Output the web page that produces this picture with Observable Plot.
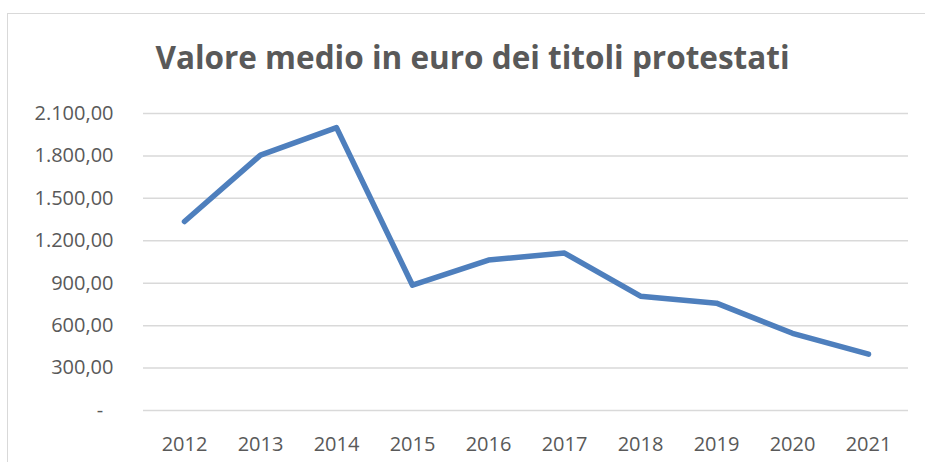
<!DOCTYPE html>
<html>
<head>
<meta charset="utf-8">
<script src="https://cdn.jsdelivr.net/npm/d3@7"></script>
<script src="https://cdn.jsdelivr.net/npm/@observablehq/plot@0.6"></script>
<style>
  html, body { margin: 0; padding: 0; background: #fff; }
  #wrap { position: relative; width: 925px; height: 462px; overflow: hidden; font-family: "Open Sans", sans-serif; }
  #frame { position: absolute; left: 7px; top: 13px; width: 1000px; height: 600px; border-top: 1.5px solid #d9d9d9; border-left: 1.5px solid #d9d9d9; box-sizing: border-box; }
  #title { position: absolute; left: 10px; width: 925px; top: 35px; text-align: center; font-size: 31.5px; font-weight: 700; color: #595959; letter-spacing: 0px; white-space: nowrap; }
  #chart { position: absolute; left: 0; top: 0; }
</style>
</head>
<body>
<div id="wrap">
  <div id="frame"></div>
  <div id="chart"></div>
  <div id="title">Valore medio in euro dei titoli protestati</div>
</div>
<script>
const years = ["2012","2013","2014","2015","2016","2017","2018","2019","2020","2021"];
const values = [1336, 1806, 2000, 886, 1064, 1113, 808, 759, 546, 398];
const yTicks = [0, 300, 600, 900, 1200, 1500, 1800, 2100];

const itLocale = d3.formatLocale({decimal: ",", thousands: ".", grouping: [3], currency: ["", " €"]});
const fmt = itLocale.format(",.2f");
const data = years.map((y, i) => ({year: y, value: values[i]}));

const chart = Plot.plot({
  width: 925,
  height: 462,
  marginLeft: 143,
  marginRight: 17,
  marginTop: 113,
  marginBottom: 52,
  style: {fontFamily: "'Open Sans', sans-serif", fontSize: "20px", color: "#595959", background: "transparent"},
  x: {type: "point", domain: years, padding: 0.5, label: null},
  y: {domain: [0, 2100], label: null},
  marks: [
    Plot.gridY(yTicks, {stroke: "#d9d9d9", strokeOpacity: 1, strokeWidth: 1.5}),
    Plot.axisY(yTicks, {tickSize: 0, tickPadding: 30, fill: "#595959", fontSize: 20,
      tickFormat: d => d === 0 ? "-\u00a0\u00a0" : fmt(d), label: null}),
    Plot.axisX({tickSize: 0, tickPadding: 26, fill: "#595959", fontSize: 20, label: null}),
    Plot.line(data, {x: "year", y: "value", stroke: "#4e7fbd", strokeWidth: 5.5, strokeLinecap: "round", strokeLinejoin: "round"})
  ]
});
document.getElementById("chart").appendChild(chart);
</script>
</body>
</html>
